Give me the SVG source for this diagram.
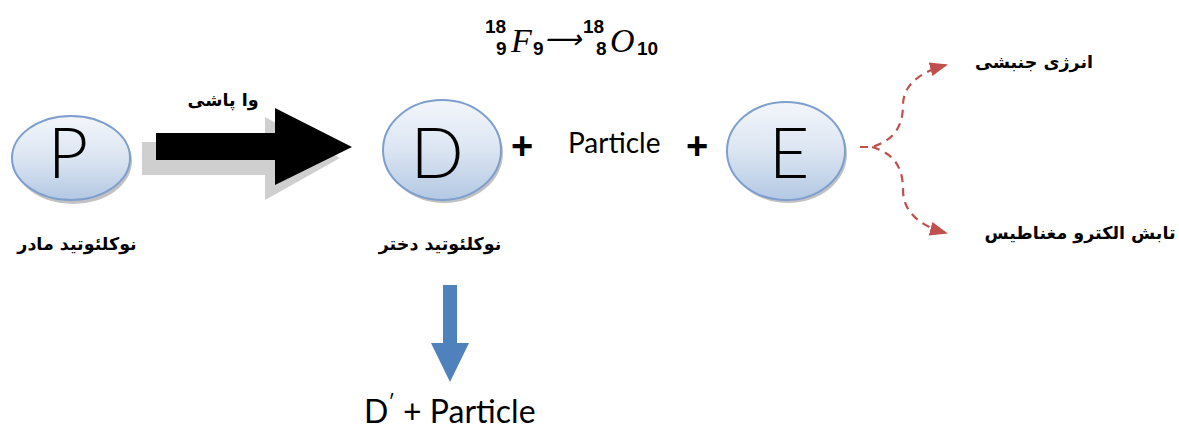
<svg xmlns="http://www.w3.org/2000/svg" width="1179" height="430" viewBox="0 0 1179 430">
<defs>
<linearGradient id="g" x1="0" y1="0" x2="0" y2="1">
<stop offset="0" stop-color="#f3f6fb"/>
<stop offset="0.5" stop-color="#dbe5f2"/>
<stop offset="1" stop-color="#b3c8e3"/>
</linearGradient>
<marker id="ah" markerWidth="18" markerHeight="14" refX="16" refY="7" orient="auto" markerUnits="userSpaceOnUse" viewBox="0 0 18 14">
<path d="M0,0 L18,7 L0,14 z" fill="#c0504d"/>
</marker>
</defs>
<style>
.node{fill:url(#g);stroke:#7e9fcd;stroke-width:2}
.shadow{fill:#9a9a9a;opacity:0.6}
.big{font-family:Lato,"Liberation Sans",Arial,sans-serif;font-weight:300;font-size:70px;fill:#000;text-anchor:middle}
.fa{font-family:"DejaVu Sans",sans-serif;font-weight:bold;font-size:17.5px;fill:#000;text-anchor:middle}
.lat{font-family:Lato,"Liberation Sans",Arial,sans-serif;fill:#000}
.plus{font-family:"Liberation Sans",Arial,sans-serif;font-weight:bold;font-size:38px;fill:#000;text-anchor:middle}
.num{font-family:"Liberation Sans",Arial,sans-serif;font-weight:bold;fill:#000}
.it{font-family:"Liberation Serif","Times New Roman",serif;font-style:italic;fill:#000}
.dash{fill:none;stroke:#c0504d;stroke-width:2.2;stroke-dasharray:8,6}
</style>
<g id="formula">
<text class="num" x="485" y="33" font-size="19">18</text>
<text class="num" x="496" y="55" font-size="19">9</text>
<text class="it" x="511" y="52" font-size="34">F</text>
<text class="num" x="533" y="55" font-size="19">9</text>
<text class="it" x="544" y="48" font-size="26">⟶</text>
<text class="num" x="583" y="33" font-size="19">18</text>
<text class="num" x="596" y="55" font-size="19">8</text>
<text class="it" x="610" y="52" font-size="34">O</text>
<text class="num" x="637" y="55" font-size="19">10</text>
</g>
<g id="decay-arrow">
<path d="M142,142 L265,142 L265,117 L340,158 L265,200 L265,175 L142,175 z" fill="#a8a8a8" opacity="0.55"/>
<path d="M156,133 L275,133 L275,108 L352,147 L275,185 L275,160 L156,160 z" fill="#000"/>
<text class="fa" x="223" y="106">وا پاشی</text>
</g>
<g id="node-P">
<ellipse class="shadow" cx="73" cy="161" rx="59" ry="43"/>
<ellipse class="node" cx="71" cy="158" rx="59" ry="42"/>
<text class="big" x="68" y="178">P</text>
<text class="fa" x="77" y="250">نوکلئوتید مادر</text>
</g>
<g id="node-D">
<ellipse class="shadow" cx="444" cy="153" rx="59" ry="50"/>
<ellipse class="node" cx="442" cy="150" rx="59" ry="50"/>
<text class="big" x="437" y="178">D</text>
<text class="fa" x="440" y="250">نوکلئوتید دختر</text>
</g>
<text class="plus" x="522" y="159">+</text>
<text class="lat" x="568" y="153" font-size="28">Particle</text>
<text class="plus" x="697" y="159">+</text>
<g id="node-E">
<ellipse class="shadow" cx="788" cy="154" rx="59" ry="49"/>
<ellipse class="node" cx="786" cy="151" rx="59" ry="49"/>
<text class="big" x="789" y="178">E</text>
</g>
<g id="connectors">
<path class="dash" d="M860,147 L872,147 C895,140 903,125 903,105 C903,85 920,72 946,65" marker-end="url(#ah)"/>
<path class="dash" d="M872,147 C895,154 903,168 903,190 C903,212 920,226 946,233" marker-end="url(#ah)"/>
<path d="M443,285 L457,285 L457,343 L469,343 L450,382 L431,343 L443,343 z" fill="#4f81bd"/>
</g>
<g id="labels">
<text class="fa" x="1034" y="68">انرژی جنبشی</text>
<text class="fa" x="1080" y="239">تابش الکترو مغناطیس</text>
<text class="lat" x="364" y="423" font-size="32">D<tspan font-size="20" dy="-14">ʹ</tspan><tspan dy="14"> + Particle</tspan></text>
</g>
</svg>
